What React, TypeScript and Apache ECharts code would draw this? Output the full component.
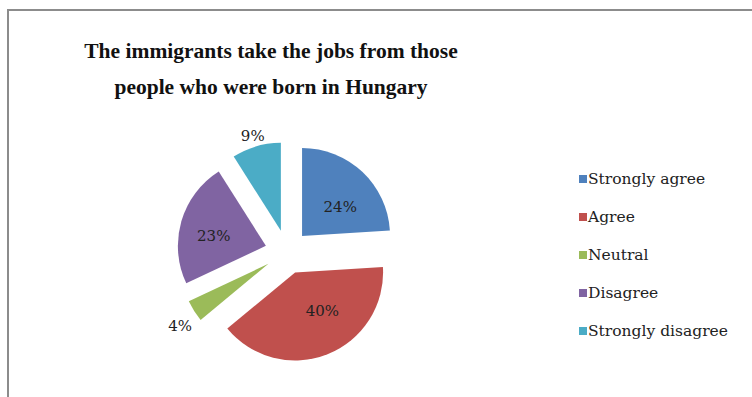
import React, { useEffect, useRef } from "react";
import * as echarts from "echarts";

const categories = ["Strongly agree", "Agree", "Neutral", "Disagree", "Strongly disagree"];
const values = [24, 40, 4, 23, 9];
const colors = ["#4F81BD", "#C0504D", "#9BBB59", "#8064A2", "#4BACC6"];
const outsideLabels = ["Neutral", "Strongly disagree"];

export default function App() {
  const ref = useRef<HTMLDivElement>(null);
  useEffect(() => {
    if (!ref.current) return;
    const chart = echarts.init(ref.current, null, { renderer: "svg" });
    const titleFont = "'Liberation Serif', 'DejaVu Serif', serif";
    const bodyFont = "'DejaVu Serif', 'Liberation Serif', serif";
    const nudges: Record<number, [number, number]> = {
      0: [6, 5],
      1: [10, -5],
      3: [-7, 3],
      2: [8, 12],
      4: [15, -5],
    };
    chart.setOption({
      animation: false,
      backgroundColor: "#ffffff",
      title: {
        text: "The immigrants take the jobs from those\npeople who were born in Hungary",
        left: 266,
        top: 28,
        textAlign: "center",
        textStyle: {
          fontFamily: titleFont,
          fontWeight: "bold",
          fontSize: 21.5,
          lineHeight: 36,
          color: "#111",
        },
      },
      legend: {
        orient: "vertical",
        left: 574,
        top: 166,
        itemWidth: 8,
        itemHeight: 8,
        itemGap: 22,
        icon: "rect",
        data: categories,
        textStyle: { fontFamily: bodyFont, fontSize: 15.5, color: "#222", padding: [0, 0, 0, -4] },
      },
      graphic: [
        {
          type: "rect",
          shape: { x: 8, y: 10, width: 800, height: 500 },
          style: { fill: "none", stroke: "#8c8c8c", lineWidth: 2 },
          silent: true,
        },
      ],
      series: [
        {
          type: "pie",
          center: [287, 252],
          radius: 88,
          startAngle: 90,
          clockwise: true,
          selectedMode: "multiple",
          selectedOffset: 22,
          legendHoverLink: false,
          emphasis: { disabled: true },
          label: {
            position: "inside",
            formatter: "{d}%",
            fontFamily: bodyFont,
            fontSize: 15,
            color: "#222",
          },
          labelLine: { show: false, length: 6, length2: 0 },
          labelLayout: (params: any) => {
            const n = nudges[params.dataIndex] || [0, 0];
            return { dx: n[0], dy: n[1] };
          },
          data: categories.map((name, i) => ({
            name,
            value: values[i],
            selected: true,
            itemStyle: { color: colors[i] },
            label: outsideLabels.includes(name)
              ? { position: "outside", formatter: "{d}%", fontFamily: bodyFont, fontSize: 15, color: "#222" }
              : undefined,
          })),
        },
      ],
    });
    return () => chart.dispose();
  }, []);
  return (
    <div
      ref={ref}
      style={{ position: "absolute", left: 0, top: 0, width: 752, height: 397 }}
    />
  );
}
